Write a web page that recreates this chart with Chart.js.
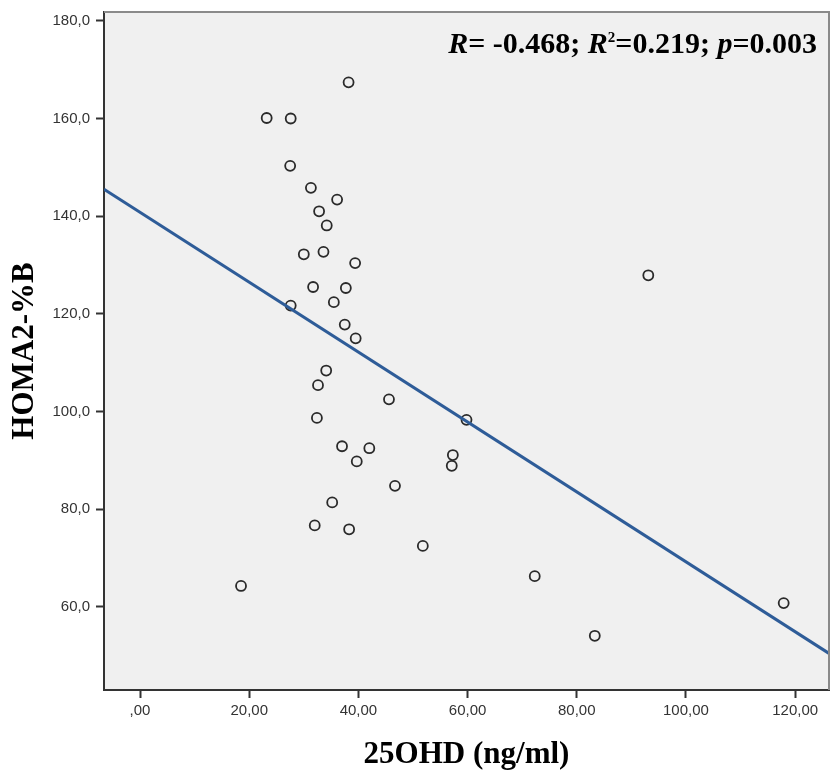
<!DOCTYPE html>
<html>
<head>
<meta charset="utf-8">
<script src="https://cdn.jsdelivr.net/npm/chart.js@4.4.1/dist/chart.umd.min.js"></script>
<style>
  html, body { margin: 0; padding: 0; background: #fff; }
  #wrap { width: 831px; height: 772px; position: relative; }
</style>
</head>
<body>
<div id="wrap"><canvas id="chart" width="831" height="772"></canvas></div>
<script>
// 25OHD (ng/ml) vs HOMA2-%B
const vitD = [38.2, 23.2, 27.6, 27.5, 31.3, 36.1, 32.8, 34.2, 30.0, 33.6,
              39.4, 31.7, 37.7, 35.5, 27.6, 37.5, 39.5, 34.1, 32.6, 45.6,
              32.4, 37.0, 42.0, 39.7, 46.7, 35.2, 32.0, 38.3, 18.5, 59.8,
              57.3, 57.1, 51.8, 72.3, 83.3, 117.9, 93.1];
const homaB = [167.4, 160.1, 160.0, 150.3, 145.8, 143.4, 141.0, 138.1, 132.2, 132.7,
               130.4, 125.5, 125.3, 122.4, 121.7, 117.8, 115.0, 108.4, 105.4, 102.5,
               98.7, 92.9, 92.5, 89.8, 84.8, 81.4, 76.7, 75.9, 64.3, 98.3,
               91.1, 88.9, 72.5, 66.3, 54.1, 60.8, 127.9];

// fit line end points (at the plot edges)
const fitX = [-6.6, 126.2];
const fitY = [145.5, 50.5];

const xTicks = [0, 20, 40, 60, 80, 100, 120];
const xTickLabels = [',00', '20,00', '40,00', '60,00', '80,00', '100,00', '120,00'];
const yTicks = [60, 80, 100, 120, 140, 160, 180];
const yTickLabels = ['60,0', '80,0', '100,0', '120,0', '140,0', '160,0', '180,0'];

const statRuns = [
  { t: 'R', it: true }, { t: '= -0.468; ' },
  { t: 'R', it: true }, { t: '2', sup: true }, { t: '=0.219; ' },
  { t: 'p', it: true }, { t: '=0.003' }
];

const SERIF = '"Liberation Serif", "Times New Roman", serif';
const SANS = '"Liberation Sans", Arial, sans-serif';

// gray plot background + light frame on top/right + stats text
const plotBg = {
  id: 'plotBg',
  beforeDraw(chart){
    const { ctx, chartArea: a } = chart;
    ctx.save();
    ctx.fillStyle = '#f0f0f0';
    ctx.fillRect(a.left, a.top, a.right - a.left, a.bottom - a.top);
    ctx.restore();
  },
  afterDraw(chart){
    const { ctx, chartArea: a } = chart;
    ctx.save();
    ctx.strokeStyle = '#8a8a8a';
    ctx.lineWidth = 2;
    ctx.beginPath();
    ctx.moveTo(a.left, a.top);
    ctx.lineTo(a.right, a.top);
    ctx.lineTo(a.right, a.bottom);
    ctx.stroke();

    const big = 'bold 30px ' + SERIF;
    const bigIt = 'italic bold 30px ' + SERIF;
    const small = 'bold 15px ' + SERIF;
    let w = 0;
    statRuns.forEach(r => {
      ctx.font = r.sup ? small : (r.it ? bigIt : big);
      w += ctx.measureText(r.t).width;
    });
    let x = 817 - w;
    const base = 53;
    ctx.fillStyle = '#000';
    ctx.textBaseline = 'alphabetic';
    statRuns.forEach(r => {
      ctx.font = r.sup ? small : (r.it ? bigIt : big);
      ctx.fillText(r.t, x, r.sup ? base - 11 : base);
      x += ctx.measureText(r.t).width;
    });
    ctx.restore();
  }
};

const ctx = document.getElementById('chart').getContext('2d');
new Chart(ctx, {
  type: 'scatter',
  data: {
    datasets: [
      {
        type: 'line',
        data: fitX.map((x, i) => ({ x, y: fitY[i] })),
        borderColor: '#2e5c98',
        borderWidth: 3,
        pointRadius: 0,
        fill: false,
        order: 0
      },
      {
        data: vitD.map((x, i) => ({ x, y: homaB[i] })),
        pointStyle: 'circle',
        pointRadius: 5,
        pointBorderWidth: 1.8,
        pointBorderColor: '#2a2a2a',
        pointBackgroundColor: 'rgba(0,0,0,0)',
        order: 1
      }
    ]
  },
  options: {
    responsive: false,
    animation: false,
    layout: { autoPadding: false, padding: { left: 0, right: 2, top: 12, bottom: 0 } },
    plugins: { legend: { display: false }, tooltip: { enabled: false } },
    scales: {
      x: {
        type: 'linear',
        min: -6.6,
        max: 126.2,
        afterBuildTicks: s => { s.ticks = xTicks.map(v => ({ value: v })); },
        afterFit: s => { s.height = 82; s.paddingLeft = 0; s.paddingRight = 0; },
        grid: { drawOnChartArea: false, tickLength: 8, tickWidth: 2, tickColor: '#333' },
        border: { color: '#333', width: 2 },
        ticks: {
          padding: 4,
          color: '#333',
          font: { family: SANS, size: 15 },
          maxRotation: 0,
          autoSkip: false,
          callback: v => xTickLabels[xTicks.indexOf(v)] ?? ''
        },
        title: {
          display: true,
          text: '25OHD (ng/ml)',
          color: '#000',
          font: { family: SERIF, size: 31, weight: 'bold', lineHeight: 1 },
          padding: { top: 0, bottom: 2 }
        }
      },
      y: {
        type: 'linear',
        min: 43.0,
        max: 181.8,
        afterBuildTicks: s => { s.ticks = yTicks.map(v => ({ value: v })); },
        afterFit: s => { s.width = 104; s.paddingTop = 0; s.paddingBottom = 0; },
        grid: { drawOnChartArea: false, tickLength: 8, tickWidth: 2, tickColor: '#333' },
        border: { color: '#333', width: 2 },
        ticks: {
          padding: 6,
          color: '#333',
          font: { family: SANS, size: 15 },
          autoSkip: false,
          callback: v => yTickLabels[yTicks.indexOf(v)] ?? ''
        },
        title: {
          display: true,
          text: 'HOMA2-%B',
          color: '#000',
          font: { family: SERIF, size: 31, weight: 'bold', lineHeight: 1 },
          padding: { top: 9, bottom: 0 }
        }
      }
    }
  },
  plugins: [plotBg]
});
</script>
</body>
</html>
